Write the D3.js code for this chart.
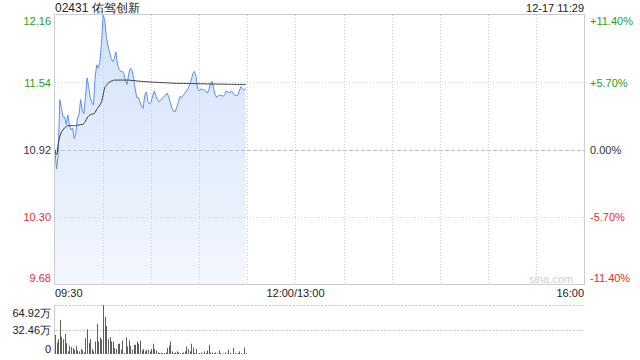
<!DOCTYPE html>
<html>
<head>
<meta charset="utf-8">
<script src="https://cdn.jsdelivr.net/npm/d3@7"></script>
<style>
  body { margin: 0; background: #fff; }
  svg { display: block; font-family: "Liberation Sans", Arial, sans-serif; }
</style>
</head>
<body>
<svg id="chart" width="640" height="360"></svg>
<script>
// chart data
const title = "02431 佑驾创新";
const stamp = "12-17 11:29";
const prevClose = 10.92;
const priceTicks = [12.16, 11.54, 10.92, 10.30, 9.68];
const pctLabels = ["+11.40%", "+5.70%", "0.00%", "-5.70%", "-11.40%"];
const timeTicks = [0, 150, 330];
const timeLabels = ["09:30", "12:00/13:00", "16:00"];
const gridMinutes = [30, 60, 90, 120, 150, 180, 210, 240, 270, 300];
const volTicks = [64.92, 32.46, 0];

// one value per minute, 09:30 - 11:29
const prices = [
  10.90, 10.74, 10.88, 11.38, 11.30, 11.22, 11.22, 11.15, 11.24, 11.14,
  11.10, 11.12, 11.02, 11.07, 11.21, 11.24, 11.38, 11.28, 11.25, 11.40,
  11.58, 11.50, 11.40, 11.35, 11.33, 11.58, 11.70, 11.67, 11.73, 11.90,
  12.16, 12.12, 11.96, 11.88, 11.82, 11.76, 11.73, 11.76, 11.82, 11.70,
  11.66, 11.64, 11.64, 11.62, 11.55, 11.52, 11.62, 11.67, 11.65, 11.58,
  11.48, 11.40, 11.40, 11.36, 11.32, 11.30, 11.42, 11.45, 11.36, 11.34,
  11.36, 11.42, 11.46, 11.41, 11.38, 11.36, 11.38, 11.39, 11.41, 11.42,
  11.44, 11.40, 11.35, 11.30, 11.27, 11.27, 11.31, 11.36, 11.41, 11.40,
  11.42, 11.44, 11.46, 11.48, 11.52, 11.56, 11.62, 11.64, 11.59, 11.48,
  11.46, 11.48, 11.47, 11.47, 11.46, 11.44, 11.47, 11.53, 11.55, 11.48,
  11.42, 11.40, 11.42, 11.42, 11.42, 11.41, 11.43, 11.46, 11.45, 11.44,
  11.46, 11.44, 11.42, 11.42, 11.42, 11.46, 11.50, 11.48, 11.47, 11.48
];

const avgPrices = [
  10.92, 10.87, 10.97, 11.04, 11.08, 11.10, 11.12, 11.13, 11.14, 11.14,
  11.14, 11.14, 11.14, 11.14, 11.145, 11.145, 11.15, 11.15, 11.16, 11.18,
  11.21, 11.23, 11.24, 11.245, 11.25, 11.26, 11.29, 11.31, 11.33, 11.36,
  11.42, 11.49, 11.51, 11.53, 11.54, 11.55, 11.555, 11.56, 11.56, 11.56,
  11.56, 11.56, 11.56, 11.56, 11.56, 11.56, 11.56, 11.558, 11.556, 11.555,
  11.554, 11.552, 11.55, 11.549, 11.548, 11.547, 11.546, 11.545, 11.544, 11.543,
  11.542, 11.541, 11.54, 11.54, 11.539, 11.538, 11.537, 11.536, 11.536, 11.535,
  11.535, 11.534, 11.533, 11.532, 11.531, 11.53, 11.53, 11.53, 11.53, 11.53,
  11.53, 11.529, 11.529, 11.528, 11.528, 11.528, 11.528, 11.527, 11.527, 11.527,
  11.526, 11.526, 11.526, 11.525, 11.525, 11.525, 11.524, 11.524, 11.524, 11.524,
  11.523, 11.523, 11.523, 11.523, 11.522, 11.522, 11.522, 11.522, 11.521, 11.521,
  11.521, 11.521, 11.521, 11.52, 11.52, 11.52, 11.52, 11.52, 11.52, 11.52
];

// volume in 万 shares
const volumes = [
  25.3, 15.3, 19.7, 45.0, 23.0, 19.7, 26.6, 14.4, 3.5, 11.0,
  9.2, 7.9, 5.7, 11.0, 4.8, 3.5, 6.6, 4.8, 2.0, 21.0,
  32.8, 14.4, 19.7, 6.6, 3.5, 16.6, 39.8, 16.6, 22.3, 19.7,
  64.7, 49.4, 37.2, 19.7, 22.3, 16.6, 16.6, 7.9, 6.6, 13.6,
  13.6, 5.7, 17.9, 1.3, 22.3, 10.0, 17.9, 11.0, 5.7, 12.2,
  12.2, 16.6, 13.6, 17.9, 4.8, 6.6, 3.5, 5.7, 5.7, 3.5,
  6.6, 13.6, 6.6, 4.8, 2.0, 1.3, 1.3, 1.3, 1.3, 2.0,
  7.9, 11.0, 16.6, 3.5, 1.3, 2.0, 3.5, 2.0, 1.3, 1.3,
  2.0, 3.5, 10.0, 6.6, 3.5, 13.6, 7.9, 1.3, 6.6, 0.5,
  1.3, 2.0, 0.5, 3.5, 1.3, 4.8, 12.2, 2.0, 2.0, 1.3,
  2.0, 0.5, 4.8, 1.3, 0.5, 0.5, 2.0, 0.5, 5.7, 1.3,
  0.5, 7.9, 1.3, 0.5, 1.3, 3.5, 1.3, 0.5, 8.7, 1.3
];

const svg = d3.select("#chart");
const plotLeft = 55, plotRight = 584, plotTop = 15, plotBottom = 284;
const volTop = 305, volBottom = 354;
const upColor = "#1fa11f", downColor = "#ee2b2b", flatColor = "#333";

const x = d3.scaleLinear().domain([0, 330]).range([plotLeft, plotRight]);
const y = d3.scaleLinear().domain([9.68, 12.16]).range([plotBottom, plotTop]);
const yVol = d3.scaleLinear().domain([0, 64.92]).range([volBottom, volTop]);

const colorFor = v => v > prevClose + 1e-9 ? upColor : (v < prevClose - 1e-9 ? downColor : flatColor);

// gradient for the area
const grad = svg.append("defs").append("linearGradient")
  .attr("id", "fillGrad")
  .attr("gradientUnits", "userSpaceOnUse")
  .attr("x1", 0).attr("y1", plotTop).attr("x2", 0).attr("y2", plotBottom);
grad.append("stop").attr("offset", "0%").attr("stop-color", "#d3e2fa");
grad.append("stop").attr("offset", "100%").attr("stop-color", "#f3f7fe");

// area under the price line
const area = d3.area()
  .x((d, i) => x(i))
  .y0(plotBottom)
  .y1(d => y(d));
svg.append("path")
  .datum(prices)
  .attr("d", area)
  .attr("fill", "url(#fillGrad)");

// grid
svg.append("g")
  .selectAll("line")
  .data(gridMinutes)
  .enter()
  .append("line")
  .attr("x1", d => Math.round(x(d)) + 0.5)
  .attr("x2", d => Math.round(x(d)) + 0.5)
  .attr("y1", plotTop)
  .attr("y2", plotBottom)
  .style("stroke", "#cfcfcf")
  .style("stroke-dasharray", "1,2");

svg.append("g")
  .selectAll("line")
  .data(priceTicks.slice(1, -1))
  .enter()
  .append("line")
  .attr("x1", plotLeft)
  .attr("x2", plotRight)
  .attr("y1", d => Math.round(y(d)) + 0.5)
  .attr("y2", d => Math.round(y(d)) + 0.5)
  .style("stroke", d => d === prevClose ? "#bdbdbd" : "#cfcfcf")
  .style("stroke-dasharray", d => d === prevClose ? "4,2" : "1,2");

// price and average lines
svg.append("path")
  .datum(prices)
  .attr("d", d3.line().x((d, i) => x(i)).y(d => y(d)))
  .attr("fill", "none")
  .style("stroke", "#5a90ef")
  .style("stroke-width", 1);

svg.append("path")
  .datum(avgPrices)
  .attr("d", d3.line().x((d, i) => x(i)).y(d => y(d)).curve(d3.curveMonotoneX))
  .attr("fill", "none")
  .style("stroke", "#3a3a3a")
  .style("stroke-width", 1);

// frame
svg.append("rect")
  .attr("x", plotLeft - 0.5)
  .attr("y", plotTop - 0.5)
  .attr("width", plotRight - plotLeft + 1)
  .attr("height", plotBottom - plotTop + 1)
  .attr("fill", "none")
  .style("stroke", "#cccccc");

// left price axis
const leftAxis = svg.append("g")
  .attr("transform", `translate(${plotLeft},0)`)
  .call(d3.axisLeft(y).tickValues(priceTicks).tickSize(0).tickPadding(4).tickFormat(d3.format(".2f")));
leftAxis.select(".domain").remove();
leftAxis.selectAll("text")
  .style("font-size", "11px")
  .style("font-family", "Liberation Sans, Arial, sans-serif")
  .attr("fill", d => colorFor(d))
  .attr("dy", (d, i) => i === 0 ? "0.85em" : (i === priceTicks.length - 1 ? "-0.2em" : "0.34em"));

// right percent axis
const rightAxis = svg.append("g")
  .attr("transform", `translate(${plotRight},0)`)
  .call(d3.axisRight(y).tickValues(priceTicks).tickSize(0).tickPadding(6).tickFormat((d, i) => pctLabels[i]));
rightAxis.select(".domain").remove();
rightAxis.selectAll("text")
  .style("font-size", "11px")
  .style("font-family", "Liberation Sans, Arial, sans-serif")
  .attr("fill", d => colorFor(d))
  .attr("dy", (d, i) => i === 0 ? "0.85em" : (i === priceTicks.length - 1 ? "-0.2em" : "0.34em"));

// time labels
svg.append("g")
  .selectAll("text")
  .data(timeTicks)
  .enter()
  .append("text")
  .attr("x", d => x(d))
  .attr("y", 297)
  .attr("text-anchor", (d, i) => i === 0 ? "start" : (i === timeTicks.length - 1 ? "end" : "middle"))
  .style("font-size", "11px")
  .attr("fill", "#222")
  .text((d, i) => timeLabels[i]);

// header
svg.append("text")
  .attr("x", plotLeft)
  .attr("y", 12)
  .style("font-size", "12px")
  .attr("fill", "#222")
  .text(title);
svg.append("text")
  .attr("x", plotRight)
  .attr("y", 12)
  .attr("text-anchor", "end")
  .style("font-size", "11px")
  .attr("fill", "#222")
  .text(stamp);

// watermark
svg.append("text")
  .attr("x", 573)
  .attr("y", 283)
  .attr("text-anchor", "end")
  .style("font-size", "11px")
  .attr("fill", "#d0d0d0")
  .text("sina.com");

// volume panel
svg.append("g")
  .selectAll("line")
  .data(volTicks.slice(0, 2))
  .enter()
  .append("line")
  .attr("x1", plotLeft)
  .attr("x2", plotRight)
  .attr("y1", d => Math.round(yVol(d)) + 0.5)
  .attr("y2", d => Math.round(yVol(d)) + 0.5)
  .style("stroke", "#c4c4c4")
  .style("stroke-width", 1.2)
  .style("stroke-dasharray", "2,1.5");

svg.append("line")
  .attr("x1", plotLeft - 0.5).attr("x2", plotLeft - 0.5)
  .attr("y1", volTop).attr("y2", volBottom)
  .style("stroke", "#cccccc");

svg.append("g")
  .selectAll("rect")
  .data(volumes)
  .enter()
  .append("rect")
  .attr("x", (d, i) => Math.round(x(i)))
  .attr("width", 1)
  .attr("y", d => yVol(d))
  .attr("height", d => volBottom - yVol(d))
  .attr("fill", "#5e5e5e");

const volAxis = svg.append("g")
  .attr("transform", `translate(${plotLeft},0)`)
  .call(d3.axisLeft(yVol).tickValues(volTicks).tickSize(0).tickPadding(4)
    .tickFormat(d => d === 0 ? "0" : d.toFixed(2) + "万"));
volAxis.select(".domain").remove();
volAxis.selectAll("text")
  .style("font-size", "11px")
  .style("font-family", "Liberation Sans, Arial, sans-serif")
  .attr("fill", "#222")
  .attr("dy", (d, i) => i === 0 ? "1.05em" : (i === volTicks.length - 1 ? "-0.1em" : "0.34em"));
</script>
</body>
</html>
